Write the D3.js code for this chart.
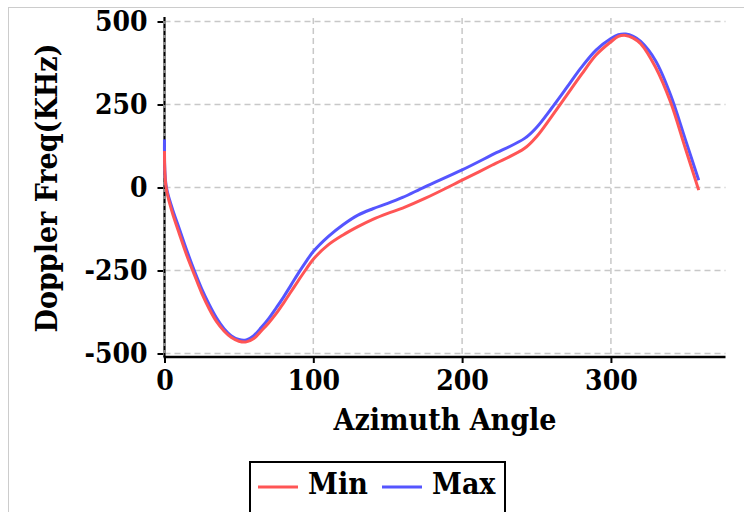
<!DOCTYPE html>
<html>
<head>
<meta charset="utf-8">
<script src="https://cdn.jsdelivr.net/npm/d3@7"></script>
<style>
  body { margin: 0; background: #fff; }
  text { font-family: "DejaVu Serif Condensed", "DejaVu Serif", serif; font-stretch: condensed; font-weight: bold; fill: #000; }
</style>
</head>
<body>
<script>
// azimuth angle (deg) and doppler frequency (KHz)
const azimuth = [0, 1, 5, 10, 15, 20, 25, 30, 35, 40, 45, 50, 55, 60, 65, 70, 75, 80, 85, 90, 95, 100,
  110, 120, 130, 140, 150, 160, 175, 200, 220, 242, 250, 260, 270, 280, 290, 300, 305, 310, 315, 320,
  330, 340, 350, 359]
const minFreq = [110, 2, -72, -140, -205, -262, -318, -365, -404, -432, -452, -463, -465, -455, -432, -408,
  -380, -348, -314, -280, -247, -216, -173, -143, -118, -96, -78, -62, -33, 22, 67, 118, 153, 213, 276,
  339, 399, 439, 455, 458, 450, 433, 362, 258, 118, -8]
const maxFreq = [145, 8, -60, -125, -190, -250, -305, -352, -393, -425, -447, -458, -459, -446, -422, -395,
  -363, -330, -294, -258, -224, -193, -148, -112, -83, -64, -48, -30, 2, 53, 98, 148, 181, 238, 299,
  361, 414, 449, 460, 462, 455, 440, 382, 280, 145, 22]
const xTicks = [0, 100, 200, 300]
const yTicks = [-500, -250, 0, 250, 500]
const seriesNames = ['Min', 'Max']
const seriesColors = ['#ff5555', '#5555ff']

const W = 744, H = 512
const svg = d3.select('body').append('svg')
  .attr('width', W)
  .attr('height', H)

// dotted outer frame
svg.append('rect')
  .attr('x', 8.5).attr('y', 7.5)
  .attr('width', 800).attr('height', 600)
  .attr('fill', 'none')
  .attr('stroke', '#999')
  .attr('stroke-dasharray', '1,1')

const x = d3.scaleLinear().domain([0, 377]).range([164.5, 725.5])
const y = d3.scaleLinear().domain([-500, 500]).range([353.5, 21.5])

// grid
svg.append('g').selectAll('line').data(yTicks).enter().append('line')
  .attr('x1', x(0)).attr('x2', x(377))
  .attr('y1', d => y(d)).attr('y2', d => y(d))
  .attr('stroke', '#c8c8c8').attr('stroke-width', 1.5).attr('stroke-dasharray', '6,4')
svg.append('g').selectAll('line').data(xTicks.slice(1)).enter().append('line')
  .attr('x1', d => x(d)).attr('x2', d => x(d))
  .attr('y1', 18).attr('y2', 357)
  .attr('stroke', '#c8c8c8').attr('stroke-width', 1.5).attr('stroke-dasharray', '6,4')

// y axis
const yAxis = svg.append('g')
  .attr('transform', `translate(${x(0)},0)`)
  .call(d3.axisLeft(y).tickValues(yTicks).tickFormat(d => String(d)).tickSize(7).tickPadding(10))
yAxis.select('.domain').remove()
yAxis.selectAll('.tick line').attr('stroke-width', 2)
yAxis.selectAll('.tick text').attr('font-size', 28).attr('font-family', null)
svg.append('line')
  .attr('x1', x(0)).attr('x2', x(0)).attr('y1', 17).attr('y2', 357)
  .attr('stroke', '#888').attr('stroke-width', 3)
svg.append('line')
  .attr('x1', x(0)).attr('x2', x(0)).attr('y1', 17).attr('y2', 357)
  .attr('stroke', '#000').attr('stroke-width', 1.5).attr('stroke-dasharray', '4,3')

// x axis
const xAxis = svg.append('g')
  .attr('transform', 'translate(0,357)')
  .call(d3.axisBottom(x).tickValues(xTicks).tickFormat(d => String(d)).tickSize(6).tickSizeOuter(0))
xAxis.select('.domain').attr('stroke-width', 2.5).attr('d', `M${x(0) - 1},0H${x(377)}`)
xAxis.selectAll('.tick line').attr('stroke-width', 2)
xAxis.selectAll('.tick text').attr('font-size', 28).attr('font-family', null)
  .attr('y', 33).attr('dy', 0)

// titles
svg.append('text')
  .attr('x', 445).attr('y', 430)
  .attr('text-anchor', 'middle')
  .attr('font-size', 30)
  .text('Azimuth Angle')
svg.append('text')
  .attr('transform', 'translate(57,188) rotate(-90)')
  .attr('text-anchor', 'middle')
  .attr('font-size', 30)
  .text('Doppler Freq(KHz)')

// lines
const line = d3.line()
  .x(d => x(d[0]))
  .y(d => y(d[1]))
  .curve(d3.curveCatmullRom.alpha(0.5))
const series = [minFreq, maxFreq]
;[1, 0].forEach(i => {
  svg.append('path')
    .datum(azimuth.map((a, j) => [a, series[i][j]]))
    .attr('fill', 'none')
    .attr('stroke', seriesColors[i])
    .attr('stroke-width', 3)
    .attr('d', line)
})

// legend
const legend = svg.append('g')
legend.append('rect')
  .attr('x', 250).attr('y', 462).attr('width', 255).attr('height', 80)
  .attr('fill', '#fff').attr('stroke', '#000').attr('stroke-width', 2)
const legendX = [258, 382]
seriesNames.forEach((name, i) => {
  legend.append('line')
    .attr('x1', legendX[i]).attr('x2', legendX[i] + 40)
    .attr('y1', 487).attr('y2', 487)
    .attr('stroke', seriesColors[i]).attr('stroke-width', 3)
  legend.append('text')
    .attr('x', legendX[i] + 50).attr('y', 494)
    .attr('font-size', 30)
    .text(name)
})
</script>
</body>
</html>
